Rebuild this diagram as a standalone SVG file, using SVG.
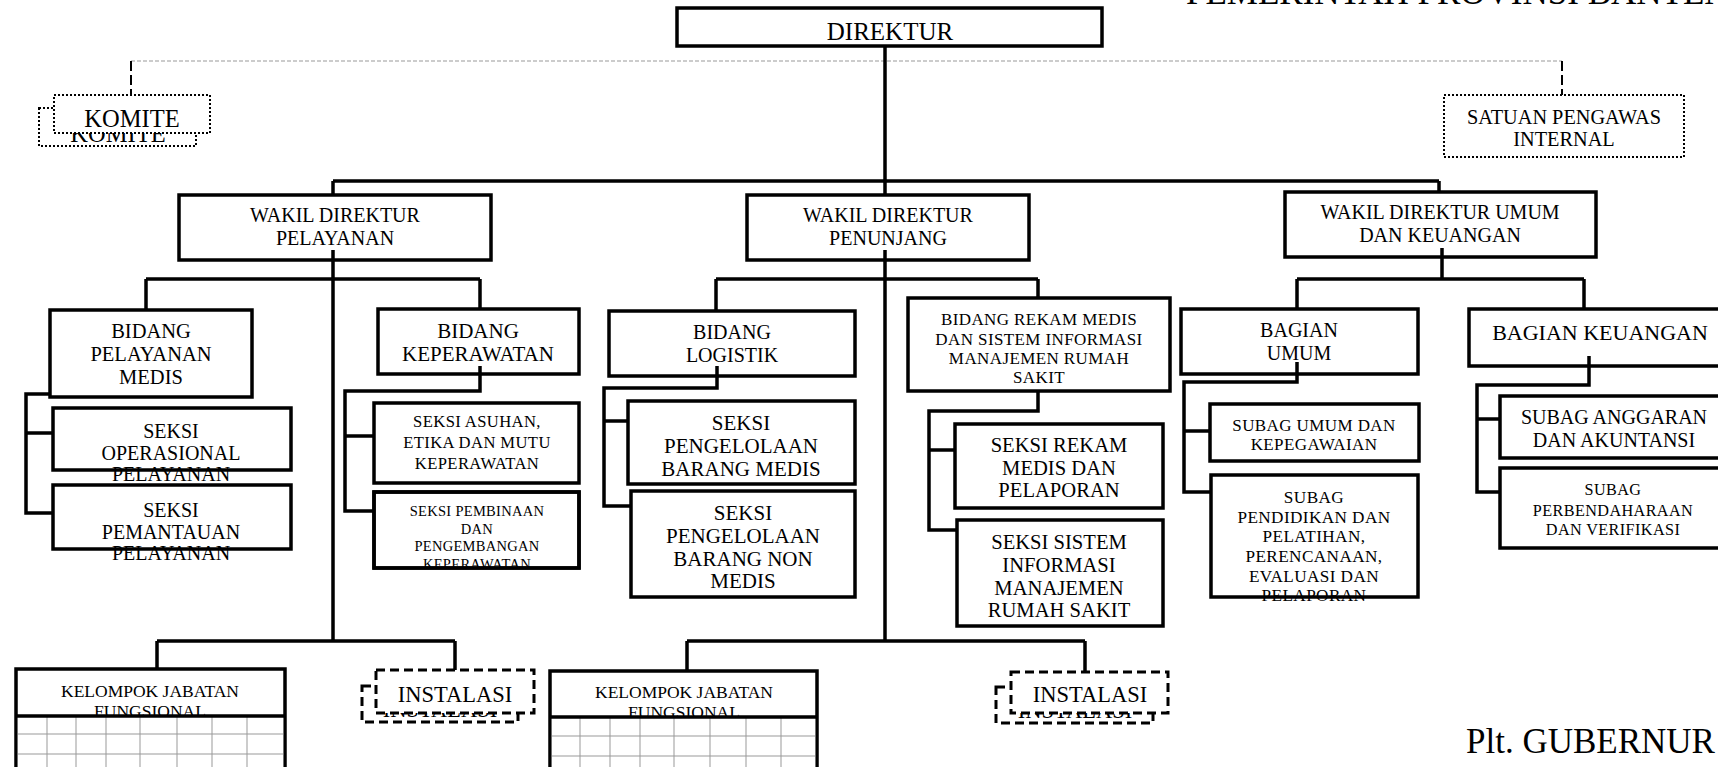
<svg xmlns="http://www.w3.org/2000/svg" width="1718" height="767" viewBox="0 0 1718 767">
<style>
.box{fill:#fff;stroke:#000;stroke-width:3.5}
.dot{fill:#fff;stroke:#000;stroke-width:2;stroke-dasharray:2 2}
.dash{fill:#fff;stroke:#000;stroke-width:3;stroke-dasharray:9 5}
.ln{fill:none;stroke:#000;stroke-width:3.5}
.grid{fill:none;stroke:#999;stroke-width:1}
.t{font-family:"Liberation Serif","Times New Roman",serif;text-anchor:middle;fill:#000}
.big{font-family:"Liberation Serif","Times New Roman",serif;font-size:35px;fill:#000}
</style>
<defs>
<clipPath id="clipPemb"><rect x="374" y="492" width="205" height="76"/></clipPath>
</defs>

<text class="big" x="1186" y="4">PEMERINTAH PROVINSI BANTEN</text>

<g id="direktur">
<rect class="box" x="677" y="8" width="425" height="38"/>
<text class="t" font-size="25" x="890" y="40">DIREKTUR</text>
</g>

<g id="komite">
<rect class="dot" x="39" y="108" width="157" height="38"/>
<text class="t" font-size="24.5" x="118" y="142">KOMITE</text>
<rect class="dot" x="54" y="95" width="156" height="38"/>
<text class="t" font-size="24.5" x="132" y="127">KOMITE</text>
</g>

<g id="spi">
<rect class="dot" x="1444" y="95" width="240" height="62"/>
<text class="t" font-size="20.3" x="1564" y="124">SATUAN PENGAWAS</text>
<text class="t" font-size="20.3" x="1564" y="146">INTERNAL</text>
</g>

<g id="wadir-pelayanan">
<rect class="box" x="179" y="195" width="312" height="65"/>
<text class="t" font-size="20" x="335" y="222">WAKIL DIREKTUR</text>
<text class="t" font-size="20" x="335" y="245">PELAYANAN</text>
</g>

<g id="wadir-penunjang">
<rect class="box" x="747" y="195" width="282" height="65"/>
<text class="t" font-size="20" x="888" y="222">WAKIL DIREKTUR</text>
<text class="t" font-size="20" x="888" y="245">PENUNJANG</text>
</g>

<g id="wadir-umum">
<rect class="box" x="1285" y="192" width="311" height="65"/>
<text class="t" font-size="20" x="1440" y="219">WAKIL DIREKTUR UMUM</text>
<text class="t" font-size="20" x="1440" y="242">DAN KEUANGAN</text>
</g>

<g id="bidang-pelayanan-medis">
<rect class="box" x="50" y="310" width="202" height="87"/>
<text class="t" font-size="20.5" x="151" y="338">BIDANG</text>
<text class="t" font-size="20.5" x="151" y="361">PELAYANAN</text>
<text class="t" font-size="20.5" x="151" y="384">MEDIS</text>
</g>

<g id="seksi-operasional">
<rect class="box" x="53" y="408" width="238" height="62"/>
<text class="t" font-size="20" x="171" y="438">SEKSI</text>
<text class="t" font-size="20" x="171" y="460">OPERASIONAL</text>
<text class="t" font-size="20" x="171" y="481">PELAYANAN</text>
</g>

<g id="seksi-pemantauan">
<rect class="box" x="53" y="485" width="238" height="64"/>
<text class="t" font-size="20" x="171" y="517">SEKSI</text>
<text class="t" font-size="20" x="171" y="539">PEMANTAUAN</text>
<text class="t" font-size="20" x="171" y="560">PELAYANAN</text>
</g>

<g id="bidang-keperawatan">
<rect class="box" x="378" y="309" width="201" height="65"/>
<text class="t" font-size="21" x="478" y="338">BIDANG</text>
<text class="t" font-size="21" x="478" y="361">KEPERAWATAN</text>
</g>

<g id="seksi-asuhan">
<rect class="box" x="374" y="403" width="205" height="80"/>
<text class="t" font-size="16.6" letter-spacing="0.4" x="477" y="427">SEKSI ASUHAN,</text>
<text class="t" font-size="16.6" letter-spacing="0.4" x="477" y="448">ETIKA DAN MUTU</text>
<text class="t" font-size="16.6" letter-spacing="0.4" x="477" y="469">KEPERAWATAN</text>
</g>

<g id="seksi-pembinaan">
<rect class="box" x="374" y="492" width="205" height="76"/>
<g clip-path="url(#clipPemb)">
<text class="t" font-size="14.5" letter-spacing="0.3" x="477" y="516">SEKSI PEMBINAAN</text>
<text class="t" font-size="14.5" letter-spacing="0.3" x="477" y="534">DAN</text>
<text class="t" font-size="14.5" letter-spacing="0.3" x="477" y="551">PENGEMBANGAN</text>
<text class="t" font-size="14.5" letter-spacing="0.3" x="477" y="569">KEPERAWATAN</text>
</g>
<rect x="374" y="492" width="205" height="76" fill="none" stroke="#000" stroke-width="3.5"/>
</g>

<g id="bidang-logistik">
<rect class="box" x="609" y="311" width="246" height="65"/>
<text class="t" font-size="20" x="732" y="339">BIDANG</text>
<text class="t" font-size="20" x="732" y="362">LOGISTIK</text>
</g>

<g id="seksi-barang-medis">
<rect class="box" x="628" y="401" width="227" height="83"/>
<text class="t" font-size="21" x="741" y="430">SEKSI</text>
<text class="t" font-size="21" x="741" y="453">PENGELOLAAN</text>
<text class="t" font-size="21" x="741" y="476">BARANG MEDIS</text>
</g>

<g id="seksi-barang-non-medis">
<rect class="box" x="631" y="491" width="224" height="106"/>
<text class="t" font-size="21" x="743" y="520">SEKSI</text>
<text class="t" font-size="21" x="743" y="543">PENGELOLAAN</text>
<text class="t" font-size="21" x="743" y="566">BARANG NON</text>
<text class="t" font-size="21" x="743" y="588">MEDIS</text>
</g>

<g id="bidang-rekam-medis">
<rect class="box" x="908" y="298" width="262" height="93"/>
<text class="t" font-size="17" letter-spacing="0.4" x="1039" y="325">BIDANG REKAM MEDIS</text>
<text class="t" font-size="17" letter-spacing="0.4" x="1039" y="345">DAN SISTEM INFORMASI</text>
<text class="t" font-size="17" letter-spacing="0.4" x="1039" y="364">MANAJEMEN RUMAH</text>
<text class="t" font-size="17" letter-spacing="0.4" x="1039" y="383">SAKIT</text>
</g>

<g id="seksi-rekam-medis">
<rect class="box" x="955" y="424" width="208" height="84"/>
<text class="t" font-size="20.6" x="1059" y="452">SEKSI REKAM</text>
<text class="t" font-size="20.6" x="1059" y="475">MEDIS DAN</text>
<text class="t" font-size="20.6" x="1059" y="497">PELAPORAN</text>
</g>

<g id="seksi-simrs">
<rect class="box" x="957" y="520" width="206" height="106"/>
<text class="t" font-size="20.6" x="1059" y="549">SEKSI SISTEM</text>
<text class="t" font-size="20.6" x="1059" y="572">INFORMASI</text>
<text class="t" font-size="20.6" x="1059" y="595">MANAJEMEN</text>
<text class="t" font-size="20.6" x="1059" y="617">RUMAH SAKIT</text>
</g>

<g id="bagian-umum">
<rect class="box" x="1181" y="309" width="237" height="65"/>
<text class="t" font-size="20" x="1299" y="337">BAGIAN</text>
<text class="t" font-size="20" x="1299" y="360">UMUM</text>
</g>

<g id="subag-umum">
<rect class="box" x="1210" y="404" width="209" height="57"/>
<text class="t" font-size="17" letter-spacing="0.4" x="1314" y="431">SUBAG UMUM DAN</text>
<text class="t" font-size="17" letter-spacing="0.4" x="1314" y="450">KEPEGAWAIAN</text>
</g>

<g id="subag-pendidikan">
<rect class="box" x="1211" y="475" width="207" height="122"/>
<text class="t" font-size="17.2" letter-spacing="0.4" x="1314" y="503">SUBAG</text>
<text class="t" font-size="17.2" letter-spacing="0.4" x="1314" y="523">PENDIDIKAN DAN</text>
<text class="t" font-size="17.2" letter-spacing="0.4" x="1314" y="542">PELATIHAN,</text>
<text class="t" font-size="17.2" letter-spacing="0.4" x="1314" y="562">PERENCANAAN,</text>
<text class="t" font-size="17.2" letter-spacing="0.4" x="1314" y="582">EVALUASI DAN</text>
<text class="t" font-size="17.2" letter-spacing="0.4" x="1314" y="601">PELAPORAN</text>
</g>

<g id="bagian-keuangan">
<rect class="box" x="1469" y="309" width="260" height="57"/>
<text class="t" font-size="22" x="1600" y="340">BAGIAN KEUANGAN</text>
</g>

<g id="subag-anggaran">
<rect class="box" x="1500" y="396" width="230" height="62"/>
<text class="t" font-size="20" x="1614" y="424">SUBAG ANGGARAN</text>
<text class="t" font-size="20" x="1614" y="447">DAN AKUNTANSI</text>
</g>

<g id="subag-perbendaharaan">
<rect class="box" x="1500" y="468" width="230" height="80"/>
<text class="t" font-size="16.2" letter-spacing="0.4" x="1613" y="495">SUBAG</text>
<text class="t" font-size="16.2" letter-spacing="0.4" x="1613" y="516">PERBENDAHARAAN</text>
<text class="t" font-size="16.2" letter-spacing="0.4" x="1613" y="535">DAN VERIFIKASI</text>
</g>

<g id="kelompok-1">
<rect class="box" x="16" y="669" width="269" height="110"/>
<text class="t" font-size="17.5" x="150" y="697">KELOMPOK JABATAN</text>
<text class="t" font-size="17.5" x="150" y="716.5">FUNGSIONAL</text>
<rect x="17.75" y="717" width="265.5" height="60" fill="#fff"/>
<path class="grid" d="M47 717V767M76 717V767M106 717V767M140 717V767M177 717V767M212 717V767M247 717V767M18 734H283M18 754H283"/>
<path class="ln" d="M16 716H285"/>
</g>

<g id="instalasi-1">
<rect class="dash" x="362" y="686" width="156" height="36"/>
<text class="t" font-size="22.5" x="440" y="717">INSTALASI</text>
<rect class="dash" x="376" y="670" width="158" height="43"/>
<text class="t" font-size="22.5" x="455" y="702">INSTALASI</text>
</g>

<g id="kelompok-2">
<rect class="box" x="550" y="671" width="267" height="110"/>
<text class="t" font-size="17.5" x="684" y="698">KELOMPOK JABATAN</text>
<text class="t" font-size="17.5" x="684" y="717.5">FUNGSIONAL</text>
<rect x="551.75" y="718" width="263.5" height="60" fill="#fff"/>
<path class="grid" d="M580 718V767M610 718V767M640 718V767M674 718V767M710 718V767M746 718V767M781 718V767M552 736H815M552 756H815"/>
<path class="ln" d="M550 717H817"/>
</g>

<g id="instalasi-2">
<rect class="dash" x="996" y="687" width="157" height="36"/>
<text class="t" font-size="22.5" x="1075" y="718">INSTALASI</text>
<rect class="dash" x="1011" y="672" width="157" height="41"/>
<text class="t" font-size="22.5" x="1090" y="702">INSTALASI</text>
</g>

<text class="big" font-size="36" x="1466" y="753">Plt. GUBERNUR</text>

<g id="connectors">
<path d="M131 61H1562" fill="none" stroke="#999" stroke-width="1" stroke-dasharray="4 2"/>
<path d="M131 61V95M1562 61V95" fill="none" stroke="#000" stroke-width="2" stroke-dasharray="10 4"/>
<path class="ln" d="M885 46V195M885 250V641M333 181H1439M333 181V195M1439 181V192"/>
<path class="ln" d="M333 250V641M146 279H480M146 279V310M480 279V309"/>
<path class="ln" d="M716 279H1038M716 279V311M1038 279V298"/>
<path class="ln" d="M1442 248V279M1297 279H1584M1297 279V309M1584 279V309"/>
<path class="ln" d="M50 394H26V513H53M26 433H53"/>
<path class="ln" d="M480 366V391H345V511H374M345 436H374"/>
<path class="ln" d="M717 366V388H604V506H631M604 421H628"/>
<path class="ln" d="M1038 391V411H929V530H957M929 450H955"/>
<path class="ln" d="M1297 362V382H1184V492H1211M1184 431H1210"/>
<path class="ln" d="M1589 356V385H1477V492H1500M1477 419H1500"/>
<path class="ln" d="M157 641H455M157 641V669M455 641V670"/>
<path class="ln" d="M687 641H1085M687 641V671M1085 641V672"/>
</g>
</svg>
